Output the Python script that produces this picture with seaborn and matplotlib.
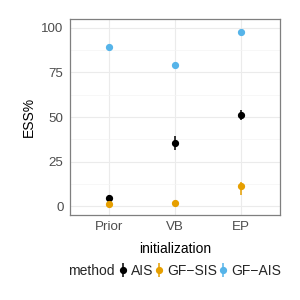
import pandas as pd
import matplotlib
matplotlib.use("Agg")
import matplotlib.pyplot as plt
import seaborn as sns

initializations = ["Prior", "VB", "EP"]
methods = ["AIS", "GF\u2212SIS", "GF\u2212AIS"]
colors = ["#000000", "#E69F00", "#56B4E9"]

# ESS% estimates with lower / upper interval ends, per method, per initialization
ais_mean = [4.4, 35.7, 51.2]
ais_lo = [3.0, 31.5, 48.3]
ais_hi = [6.0, 39.5, 54.0]
gfsis_mean = [1.4, 1.8, 11.4]
gfsis_lo = [0.8, 1.2, 6.3]
gfsis_hi = [2.0, 2.4, 13.5]
gfais_mean = [89.5, 79.2, 97.6]
gfais_lo = [89.0, 78.7, 97.1]
gfais_hi = [90.0, 79.7, 98.1]

df = pd.DataFrame({
    "initialization": initializations * 3,
    "method": [m for m in methods for _ in initializations],
    "ess": ais_mean + gfsis_mean + gfais_mean,
    "lo": ais_lo + gfsis_lo + gfais_lo,
    "hi": ais_hi + gfsis_hi + gfais_hi,
})
df["x"] = df["initialization"].map({k: i for i, k in enumerate(initializations)})

sns.set_theme(style="whitegrid")
plt.rcParams["font.family"] = ["Liberation Sans", "DejaVu Sans"]

fig = plt.figure(figsize=(3, 3), dpi=100)
ax = fig.add_axes([0.233, 0.283, 0.70, 0.654])

handles = []
for m, c in zip(methods, colors):
    sub = df[df["method"] == m]
    h = ax.errorbar(sub["x"], sub["ess"],
                    yerr=[sub["ess"] - sub["lo"], sub["hi"] - sub["ess"]],
                    fmt="o", color=c, ms=4.2, elinewidth=1.1, capsize=0,
                    label=m, zorder=3)
    handles.append(h)

ax.set_xlim(-0.6, 2.6)
ax.set_ylim(-5, 105)
ax.set_xticks(range(len(initializations)))
ax.set_xticklabels(initializations)
ax.set_yticks([0, 25, 50, 75, 100])
ax.set_yticks([12.5, 37.5, 62.5, 87.5], minor=True)
ax.grid(which="major", color="#EBEBEB", linewidth=0.8)
ax.grid(which="minor", axis="y", color="#F4F4F4", linewidth=0.5)
ax.set_facecolor("white")
for s in ax.spines.values():
    s.set_color("#7F7F7F")
    s.set_linewidth(0.9)
ax.tick_params(axis="both", which="major", labelsize=9.6, colors="#4D4D4D",
               length=2.5, width=0.6, pad=2, labelcolor="#4D4D4D")
ax.tick_params(which="minor", length=0)
ax.set_xlabel("initialization", fontsize=10, color="black", labelpad=6)
ax.set_ylabel("ESS%", fontsize=10, color="black", labelpad=4)

fig.text(0.228, 0.097, "method", fontsize=10, va="center", ha="left")
fig.legend(handles=handles, labels=methods, loc="center left",
           bbox_to_anchor=(0.398, 0.097), ncol=3, frameon=False,
           fontsize=10, handlelength=0.5, handletextpad=0.35,
           columnspacing=0.16, borderaxespad=0, borderpad=0)

fig.savefig("out.png", dpi=100)
